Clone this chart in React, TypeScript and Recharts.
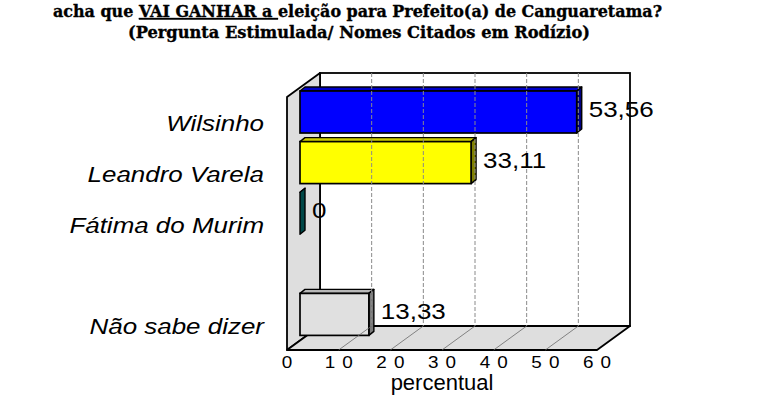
import React from "react";
import { BarChart, Bar, XAxis, YAxis, ReferenceArea, ReferenceLine, LabelList } from "recharts";

// ---- data ----
const categories = ["Wilsinho", "Leandro Varela", "Fátima do Murim", "", "Não sabe dizer"];
const percentages: (number | null)[] = [53.56, 33.11, 0, null, 13.33];
const xTicks = [0, 10, 20, 30, 40, 50, 60];
const innerGridTicks = [10, 20, 30, 40, 50];
const titleStart = "acha que ";
const titleUnderlined = "VAI GANHAR a ";
const titleEnd = "eleição para Prefeito(a) de Canguaretama?";
const subtitle = "(Pergunta Estimulada/ Nomes Citados em Rodízio)";
const axisTitle = "percentual";

// ---- styles ----
const frontColors = ["#0000ff", "#ffff00", "#008080", "#ffffff", "#e0e0e0"];
const topColors = ["#0000c8", "#cccc00", "#006868", "#ffffff", "#b8b8b8"];
const sideColors = ["#000080", "#808000", "#004848", "#ffffff", "#7a7a7a"];

const data = categories.map((name, i) => ({ name, value: percentages[i] }));

const DEPTH_X = 33;
const DEPTH_Y = -24;
const BAR_SHIFT_X = 13;
const BAR_SHIFT_Y = -10;
const BAR_DX = 5;
const BAR_DY = -4;
const SANS = "'Liberation Sans', Arial, sans-serif";
const SERIF = "'DejaVu Serif', serif";
const STRETCH = 1.18;

const fmt = (v: number) => (Number.isInteger(v) ? String(v) : v.toFixed(2).replace(".", ","));

const Walls = (p: any) => {
  const { x, y, width: w, height: h } = p;
  const bx = x + DEPTH_X;
  const by = y + DEPTH_Y;
  return (
    <g>
      <rect x={bx} y={by} width={w} height={h} fill="#ffffff" stroke="#000" strokeWidth={1.8} />
      <polygon
        points={`${x},${y} ${bx},${by} ${bx},${by + h} ${x},${y + h}`}
        fill="#dedede"
        stroke="#000"
        strokeWidth={1.8}
        strokeLinejoin="round"
      />
      <polygon
        points={`${x},${y + h} ${bx},${by + h} ${bx + w},${by + h} ${x + w},${y + h}`}
        fill="#dedede"
        stroke="#000"
        strokeWidth={1.8}
        strokeLinejoin="round"
      />
    </g>
  );
};

const GridLine3D = (p: any) => {
  const x = p.x1;
  const top = Math.min(p.y1, p.y2);
  const bottom = Math.max(p.y1, p.y2);
  return (
    <g>
      <line
        x1={x + DEPTH_X}
        y1={top + DEPTH_Y}
        x2={x + DEPTH_X}
        y2={bottom + DEPTH_Y}
        stroke="#8a8a8a"
        strokeWidth={1}
        strokeDasharray="4 2"
      />
      <line x1={x} y1={bottom} x2={x + DEPTH_X} y2={bottom + DEPTH_Y} stroke="#6a6a6a" strokeWidth={0.8} />
    </g>
  );
};

const colorIndex = (p: any) => {
  const name = p.payload ? p.payload.name : p.name;
  const i = categories.indexOf(name);
  return i >= 0 ? i : 0;
};

const Bar3D = (p: any) => {
  const { x, y, width, height } = p;
  const v = p.payload ? p.payload.value : p.value;
  if (v == null || !isFinite(x) || !isFinite(y) || !isFinite(height)) return <g />;
  const ci = colorIndex(p);
  const X = x + BAR_SHIFT_X;
  const Y = y + BAR_SHIFT_Y;
  const W = Math.max(width || 0, 0);
  const H = height;
  return (
    <g>
      <polygon
        points={`${X},${Y} ${X + BAR_DX},${Y + BAR_DY} ${X + W + BAR_DX},${Y + BAR_DY} ${X + W},${Y}`}
        fill={topColors[ci]}
        stroke="#000"
        strokeWidth={1.4}
        strokeLinejoin="round"
      />
      <polygon
        points={`${X + W},${Y} ${X + W + BAR_DX},${Y + BAR_DY} ${X + W + BAR_DX},${Y + H + BAR_DY} ${X + W},${Y + H}`}
        fill={sideColors[ci]}
        stroke="#000"
        strokeWidth={1.4}
        strokeLinejoin="round"
      />
      <rect x={X} y={Y} width={W} height={H} fill={frontColors[ci]} stroke="#000" strokeWidth={1.7} />
    </g>
  );
};

const ValueLabel = (p: any) => {
  const { x, y, width, height, value } = p;
  if (value == null || !isFinite(x)) return null;
  const lx = x + (width || 0) + BAR_SHIFT_X + 12;
  const ly = y + height / 2 + BAR_SHIFT_Y + 5;
  return (
    <text
      transform={`translate(${lx} ${ly}) scale(${STRETCH} 1)`}
      fontFamily={SANS}
      fontSize={22}
      fill="#000"
    >
      {fmt(Number(value))}
    </text>
  );
};

const YTick = (p: any) => {
  const { y, payload } = p;
  if (!payload || !payload.value) return <g />;
  return (
    <text
      transform={`translate(264 ${y + 9}) scale(${STRETCH} 1)`}
      textAnchor="end"
      fontFamily={SANS}
      fontStyle="italic"
      fontSize={22}
      fill="#000"
    >
      {payload.value}
    </text>
  );
};

const XTick = (p: any) => {
  const { x, payload } = p;
  return (
    <text
      transform={`translate(${x} 368) scale(${STRETCH} 1)`}
      dx={3}
      textAnchor="middle"
      fontFamily={SANS}
      fontSize={16}
      letterSpacing={6}
      fill="#000"
    >
      {payload.value}
    </text>
  );
};

export default function App() {
  return (
    <div style={{ position: "absolute", left: 0, top: 0, width: 764, height: 402, background: "#fff" }}>
      <BarChart
        width={764}
        height={402}
        data={data}
        layout="vertical"
        margin={{ top: 97, right: 167, bottom: 0, left: 17 }}
      >
        <XAxis
          type="number"
          domain={[0, 60]}
          ticks={xTicks}
          axisLine={false}
          tickLine={false}
          height={52}
          interval={0}
          tick={(props: any) => <XTick {...props} />}
        />
        <YAxis
          type="category"
          dataKey="name"
          width={270}
          axisLine={false}
          tickLine={false}
          interval={0}
          tick={(props: any) => <YTick {...props} />}
        />
        <ReferenceArea x1={0} x2={60} ifOverflow="visible" shape={(props: any) => <Walls {...props} />} />
        {innerGridTicks.map((t) => (
          <ReferenceLine key={t} x={t} shape={(props: any) => <GridLine3D {...props} />} />
        ))}
        <Bar dataKey="value" barSize={42} isAnimationActive={false} shape={(props: any) => <Bar3D {...props} />}>
          <LabelList dataKey="value" content={(props: any) => <ValueLabel {...props} />} />
        </Bar>
        <text
          x={53}
          y={17}
          fontFamily={SERIF}
          fontWeight="bold"
          fontSize={16}
          textLength={609}
          lengthAdjust="spacingAndGlyphs"
          fill="#000"
          stroke="#000"
          strokeWidth={0.35}
        >
          <tspan>{titleStart}</tspan>
          <tspan textDecoration="underline" style={{ textDecoration: "underline" }}>{titleUnderlined}</tspan>
          <tspan>{titleEnd}</tspan>
        </text>
        <text
          x={128}
          y={38}
          fontFamily={SERIF}
          fontWeight="bold"
          fontSize={16}
          textLength={462}
          lengthAdjust="spacingAndGlyphs"
          fill="#000"
          stroke="#000"
          strokeWidth={0.35}
        >
          {subtitle}
        </text>
        <text x={442} y={390} textAnchor="middle" fontFamily={SANS} fontSize={22} fill="#000">
          {axisTitle}
        </text>
      </BarChart>
    </div>
  );
}
